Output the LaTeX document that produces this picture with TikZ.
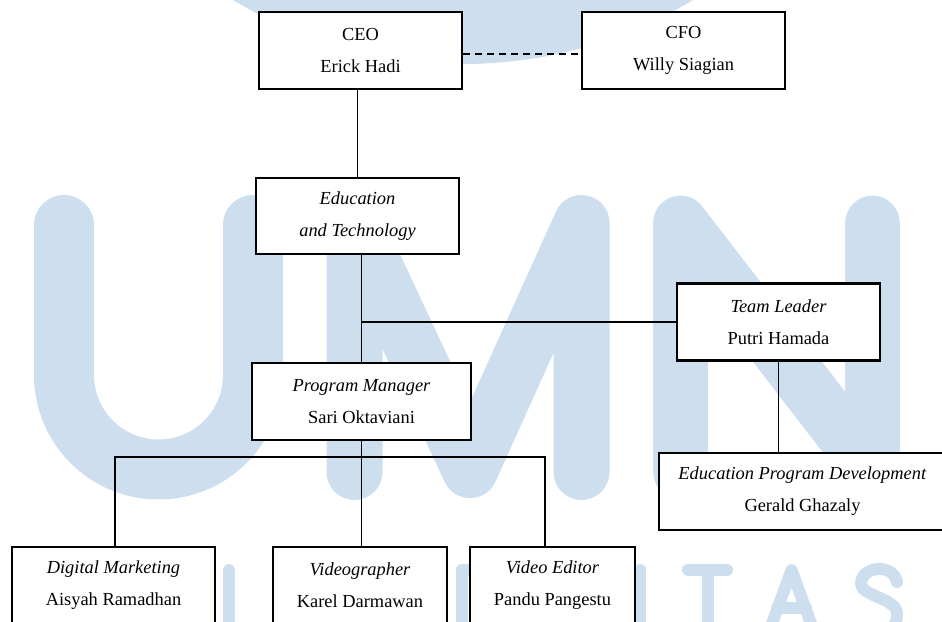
\documentclass[tikz,border=0pt]{standalone}
\usepackage{fontspec}
\setmainfont{Liberation Serif}
\usetikzlibrary{calc}

\definecolor{umnblue}{RGB}{205,223,238}

\tikzset{
  box/.style={draw, line width=2.1pt, fill=white, inner sep=0pt, align=center,
    minimum width=152.25pt, minimum height=57.75pt,
    font=\fontsize{13.8}{24}\selectfont},
  link/.style={line width=0.8pt},
  wm/.style={umnblue, line cap=round, line join=round},
}

\begin{document}
\begin{tikzpicture}[x=0.75pt, y=-0.75pt]
  \useasboundingbox (0,0) rectangle (942,621);
  \clip (0,0) rectangle (942,621);

  % watermark: logo ring and UMN
  \fill[umnblue] (463,-381) circle (445);
  \draw[wm, line width=45pt] (64,225) -- (64,375) arc (180:0:94.5) -- (253,225);
  \draw[wm, line width=42pt] (354.5,472) -- (354.5,223) -- (470,470) -- (581.5,223) -- (581.5,472);
  \draw[wm, line width=41pt] (680.5,472) -- (680.5,223) -- (872.5,472) -- (872.5,223);

  % watermark: universitas (only the visible letters)
  \begin{scope}[wm, line width=9pt]
    \draw (228.5,570) -- (228.5,640);
    \draw (461.5,640) -- (461.5,570) -- (490,570);
    \draw (640,570) -- (640,640);
    \draw (688,570) -- (727,570) (707.5,570) -- (707.5,640);
    \draw (766,640) -- (791.5,570) -- (817,640) (777,608) -- (806,608);
    \draw (897,582) .. controls (895,573) and (888,569) .. (879,569)
      .. controls (869,569) and (861,575) .. (861,584)
      .. controls (861,596) and (897,598) .. (897,614)
      .. controls (897,626) and (889,632) .. (879,632);
  \end{scope}

  % boxes
  \node[box] (ceo) at (360.5,50.5) {CEO\\Erick Hadi};
  \node[box] (cfo) at (683.5,50.5) {CFO\\Willy Siagian};
  \node[box, minimum height=57pt] (edu) at (357.5,216) {\textit{Education}\\\textit{and Technology}};
  \node[box] (lead) at (778.5,322) {\textit{Team Leader}\\Putri Hamada};
  \node[box, minimum width=164.25pt] (pm) at (361.5,401.5) {\textit{Program Manager}\\Sari Oktaviani};
  \node[box, minimum width=215.25pt] (epd) at (802.5,491.5) {\textit{Education Program Development}\\Gerald Ghazaly};
  \node[box] (dm) at (113.5,585.5) {\textit{Digital Marketing}\\Aisyah Ramadhan};
  \node[box, minimum width=130.5pt] (vg) at (360,585.5) {\textit{Videographer}\\Karel Darmawan};
  \node[box, minimum width=123.75pt] (ve) at (552.5,585.5) {\textit{Video Editor}\\Pandu Pangestu};

  % lines
  \draw[line width=1.5pt, dash pattern=on 5pt off 4pt] ([yshift=-2.5pt]ceo.east) -- ([yshift=-2.5pt]cfo.west);
  \draw[link] (edu.north |- ceo.south) -- (edu.north);
  \draw[link] (pm.north |- edu.south) -- (pm.north);
  \draw[link] (lead.west) -- (lead.west -| pm.north);
  \draw[link] (lead.south) -- (lead.south |- epd.north);
  \draw[link] (pm.south) -- (pm.south |- vg.north);

  % staff bus
  \coordinate (busL) at (115,457);
  \coordinate (busR) at (545,457);
  \draw[link] (busL |- dm.north) -- (busL) -- (busR) -- (busR |- ve.north);
\end{tikzpicture}
\end{document}
